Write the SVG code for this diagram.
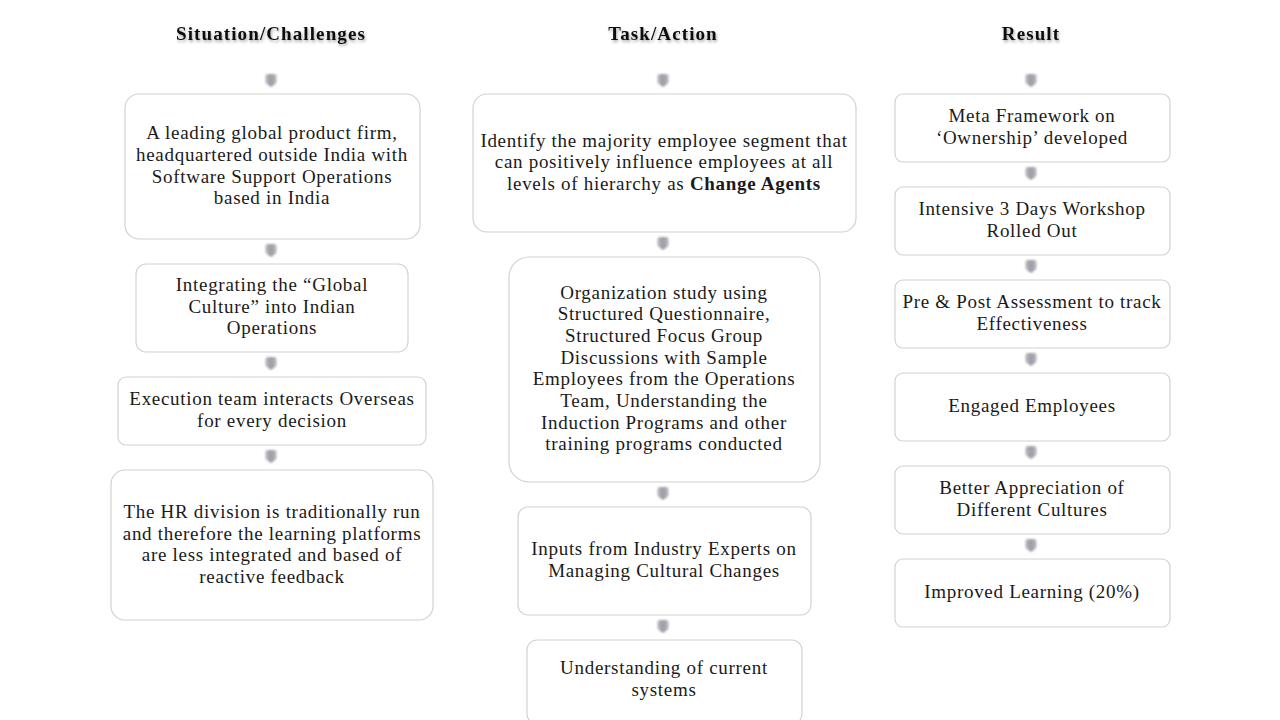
<svg xmlns="http://www.w3.org/2000/svg" width="1280" height="720" viewBox="0 0 1280 720">
<defs>
<filter id="sh" x="-10%" y="-30%" width="120%" height="170%">
<feDropShadow dx="1" dy="2" stdDeviation="1.5" flood-color="#000" flood-opacity="0.35"/>
</filter>
<filter id="bl" x="-50%" y="-50%" width="200%" height="200%">
<feGaussianBlur stdDeviation="0.8"/>
</filter>
<linearGradient id="cg" x1="0" y1="0" x2="1" y2="0">
<stop offset="0" stop-color="#b8b8c0"/>
<stop offset="0.5" stop-color="#9c9ca4"/>
<stop offset="1" stop-color="#b8b8c0"/>
</linearGradient>
<path id="chev" d="M-5.5,-5 Q-5.5,-7 -3,-7 L3,-7 Q5.5,-7 5.5,-5 L5.5,1 Q5.5,2 3,4 L0,6 L-3,4 Q-5.5,2 -5.5,1 Z"/>
</defs>
<style>
.bx{fill:#fff;stroke:#d2d2d2;stroke-width:1.2}
.t{font-family:"Liberation Serif",serif;font-size:19px;letter-spacing:0.7px;fill:#1a1a1a;text-anchor:middle}
.h{font-family:"Liberation Serif",serif;font-size:19px;letter-spacing:1.1px;font-weight:bold;fill:#111;text-anchor:middle}
.c{fill:url(#cg);filter:url(#bl)}
</style>
<rect width="1280" height="720" fill="#fff"/>

<g id="headings">
<text class="h" x="271" y="40" filter="url(#sh)">Situation/Challenges</text>
<text class="h" x="663" y="40" filter="url(#sh)">Task/Action</text>
<text class="h" x="1031" y="40" filter="url(#sh)">Result</text>
</g>

<g id="connectors">
<use href="#chev" class="c" x="271" y="81"/>
<use href="#chev" class="c" x="271" y="251"/>
<use href="#chev" class="c" x="271" y="364"/>
<use href="#chev" class="c" x="271" y="457"/>
<use href="#chev" class="c" x="663" y="81"/>
<use href="#chev" class="c" x="663" y="244"/>
<use href="#chev" class="c" x="663" y="494"/>
<use href="#chev" class="c" x="663" y="627"/>
<use href="#chev" class="c" x="1031" y="81"/>
<use href="#chev" class="c" x="1031" y="174"/>
<use href="#chev" class="c" x="1031" y="267"/>
<use href="#chev" class="c" x="1031" y="360"/>
<use href="#chev" class="c" x="1031" y="453"/>
<use href="#chev" class="c" x="1031" y="546"/>
</g>

<g id="s1">
<rect class="bx" x="125" y="94" width="295" height="145" rx="14"/>
<text class="t" x="272" y="139">A leading global product firm,</text>
<text class="t" x="272" y="161">headquartered outside India with</text>
<text class="t" x="272" y="183">Software Support Operations</text>
<text class="t" x="272" y="204">based in India</text>
</g>
<g id="s2">
<rect class="bx" x="136" y="264" width="272" height="88" rx="10"/>
<text class="t" x="272" y="291">Integrating the “Global</text>
<text class="t" x="272" y="313">Culture” into Indian</text>
<text class="t" x="272" y="334">Operations</text>
</g>
<g id="s3">
<rect class="bx" x="118" y="377" width="308" height="68" rx="8"/>
<text class="t" x="272" y="405">Execution team interacts Overseas</text>
<text class="t" x="272" y="427">for every decision</text>
</g>
<g id="s4">
<rect class="bx" x="111" y="470" width="322" height="150" rx="14"/>
<text class="t" x="272" y="518">The HR division is traditionally run</text>
<text class="t" x="272" y="540">and therefore the learning platforms</text>
<text class="t" x="272" y="561">are less integrated and based of</text>
<text class="t" x="272" y="583">reactive feedback</text>
</g>

<g id="a1">
<rect class="bx" x="473" y="94" width="383" height="138" rx="14"/>
<text class="t" x="664" y="147">Identify the majority employee segment that</text>
<text class="t" x="664" y="168">can positively influence employees at all</text>
<text class="t" x="664" y="190">levels of  hierarchy as <tspan font-weight="bold">Change Agents</tspan></text>
</g>
<g id="a2">
<rect class="bx" x="509" y="257" width="311" height="225" rx="20"/>
<text class="t" x="664" y="299">Organization study using</text>
<text class="t" x="664" y="320">Structured Questionnaire,</text>
<text class="t" x="664" y="342">Structured Focus Group</text>
<text class="t" x="664" y="364">Discussions with Sample</text>
<text class="t" x="664" y="385">Employees from the Operations</text>
<text class="t" x="664" y="407">Team, Understanding the</text>
<text class="t" x="664" y="429">Induction Programs and other</text>
<text class="t" x="664" y="450">training programs conducted</text>
</g>
<g id="a3">
<rect class="bx" x="518" y="507" width="293" height="108" rx="10"/>
<text class="t" x="664" y="555">Inputs from Industry Experts on</text>
<text class="t" x="664" y="577">Managing Cultural Changes</text>
</g>
<g id="a4">
<rect class="bx" x="527" y="640" width="275" height="84" rx="10"/>
<text class="t" x="664" y="674">Understanding of  current</text>
<text class="t" x="664" y="696">systems</text>
</g>

<g id="r1">
<rect class="bx" x="895" y="94" width="275" height="68" rx="8"/>
<text class="t" x="1032" y="122">Meta Framework on</text>
<text class="t" x="1032" y="144">‘Ownership’ developed</text>
</g>
<g id="r2">
<rect class="bx" x="895" y="187" width="275" height="68" rx="8"/>
<text class="t" x="1032" y="215">Intensive 3 Days Workshop</text>
<text class="t" x="1032" y="237">Rolled Out</text>
</g>
<g id="r3">
<rect class="bx" x="895" y="280" width="275" height="68" rx="8"/>
<text class="t" x="1032" y="308">Pre &amp; Post Assessment to track</text>
<text class="t" x="1032" y="330">Effectiveness</text>
</g>
<g id="r4">
<rect class="bx" x="895" y="373" width="275" height="68" rx="8"/>
<text class="t" x="1032" y="412">Engaged Employees</text>
</g>
<g id="r5">
<rect class="bx" x="895" y="466" width="275" height="68" rx="8"/>
<text class="t" x="1032" y="494">Better Appreciation of</text>
<text class="t" x="1032" y="516">Different Cultures</text>
</g>
<g id="r6">
<rect class="bx" x="895" y="559" width="275" height="68" rx="8"/>
<text class="t" x="1032" y="598">Improved Learning (20%)</text>
</g>
</svg>
